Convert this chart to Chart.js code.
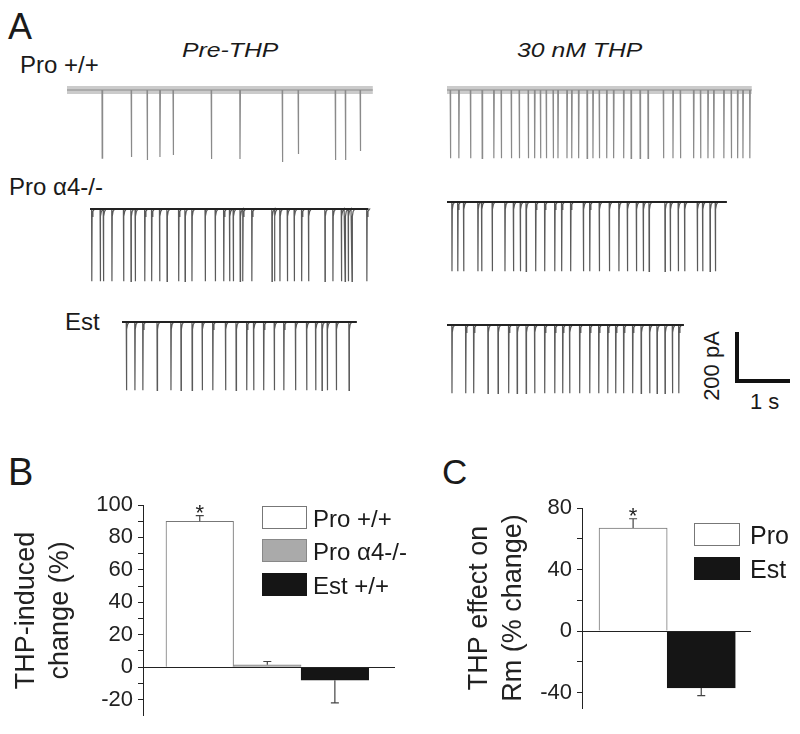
<!DOCTYPE html>
<html lang="en">
<head>
<meta charset="UTF-8" />
<title>THP effect on spontaneous currents</title>
<script src="https://cdn.jsdelivr.net/npm/chart.js"></script>
<style>
  body { margin: 0; background: #fff; font-family: Arial, "Liberation Sans", sans-serif; color: #1a1a1a; }
  #fig { position: relative; width: 800px; height: 734px; overflow: hidden; }
  #fig canvas, .lbl, .box { position: absolute; }
  .lbl { white-space: nowrap; line-height: 1; }
  .wide { transform: scaleX(1.18); transform-origin: left top; }
  .box { box-sizing: border-box; width: 45px; height: 23px; }
</style>
</head>
<body>
<div id="fig">
  <div class="lbl" style="left:8px;top:9px;font-size:36px">A</div>
  <div class="lbl wide" style="left:182px;top:39px;font-size:21px;font-style:italic">Pre-THP</div>
  <div class="lbl wide" style="left:517px;top:39px;font-size:21px;font-style:italic">30 nM THP</div>
  <div class="lbl" style="left:20px;top:53px;font-size:24px">Pro +/+</div>
  <div class="lbl" style="left:9px;top:175px;font-size:24px">Pro α4-/-</div>
  <div class="lbl" style="left:65px;top:310px;font-size:24px">Est</div>
  <div class="lbl" style="left:712px;top:366px;font-size:22px;transform:translate(-50%,-50%) rotate(-90deg)">200 pA</div>
  <div class="lbl" style="left:750px;top:391px;font-size:22px">1 s</div>

  <div class="lbl" style="left:8px;top:453px;font-size:38px">B</div>
  <div class="lbl" style="left:442px;top:454px;font-size:35px">C</div>

  <canvas id="chartB" width="420" height="294" style="left:0;top:440px"></canvas>
  <canvas id="chartC" width="390" height="294" style="left:410px;top:440px"></canvas>

  <div class="box" style="left:262px;top:506px;background:#fff;border:1px solid #777"></div>
  <div class="box" style="left:262px;top:539px;background:#aaa;border:1px solid #888"></div>
  <div class="box" style="left:262px;top:573px;background:#151515"></div>
  <div class="lbl" style="left:313px;top:507px;font-size:24px">Pro +/+</div>
  <div class="lbl" style="left:313px;top:540px;font-size:24px">Pro α4-/-</div>
  <div class="lbl" style="left:313px;top:574px;font-size:24px">Est +/+</div>

  <div class="box" style="left:694px;top:523px;width:46px;background:#fff;border:1px solid #777"></div>
  <div class="box" style="left:694px;top:557px;width:46px;background:#151515"></div>
  <div class="lbl" style="left:750px;top:523px;font-size:25px">Pro</div>
  <div class="lbl" style="left:750px;top:557px;font-size:25px">Est</div>
</div>

<script>
  // spike (event) times in seconds
  const preProWT = [0.66, 1.21, 1.51, 1.75, 2.00, 2.72, 3.26, 4.06, 4.36, 5.06, 5.25, 5.53];
  const preProWTAmp = [278, 273, 286, 273, 265, 282, 282, 294, 261, 286, 286, 249];
  const thpProWT = [0.06, 0.22, 0.44, 0.66, 0.88, 1.02, 1.21, 1.36, 1.53, 1.65, 1.76, 1.87, 2.00, 2.09,
    2.26, 2.35, 2.48, 2.64, 2.75, 2.87, 3.01, 3.14, 3.33, 3.47, 3.64, 3.79, 4.08, 4.26, 4.40, 4.65,
    4.78, 4.92, 5.03, 5.22, 5.36, 5.48, 5.58, 5.71];
  const preProKO = [0.03, 0.19, 0.25, 0.41, 0.63, 0.77, 0.85, 1.03, 1.16, 1.31, 1.45, 1.67, 1.79, 1.92,
    2.17, 2.36, 2.52, 2.63, 2.70, 2.83, 2.88, 3.05, 3.43, 3.48, 3.58, 3.72, 3.85, 3.99, 4.12, 4.43,
    4.58, 4.74, 4.81, 4.87, 4.94, 5.22];
  const thpProKO = [0.09, 0.20, 0.31, 0.58, 0.65, 0.85, 1.09, 1.25, 1.38, 1.49, 1.67, 1.84, 2.03, 2.16,
    2.33, 2.57, 2.69, 2.87, 3.06, 3.24, 3.40, 3.57, 3.70, 3.81, 4.11, 4.21, 4.36, 4.48, 4.72, 4.82,
    4.96, 5.06];
  const preEst = [0.08, 0.24, 0.39, 0.66, 0.92, 1.11, 1.32, 1.51, 1.71, 1.95, 2.15, 2.35, 2.48, 2.67,
    2.87, 3.05, 3.27, 3.48, 3.65, 3.77, 3.87, 4.04, 4.28];
  const thpEst = [0.09, 0.35, 0.50, 0.77, 0.96, 1.16, 1.32, 1.49, 1.65, 1.84, 2.03, 2.18, 2.31, 2.50,
    2.69, 2.86, 3.03, 3.18, 3.33, 3.50, 3.66, 3.82, 3.96, 4.11, 4.25, 4.37];
  // trace lengths (s) and amplitudes (pA)
  const traceDur = [5.77, 5.75, 5.25, 5.28, 4.43, 4.47];
  const traceAmp = [preProWTAmp, 279, 295, 283, 279, 279];
  const scaleBarSeconds = 1;
  const scaleBarPA = 200;

  // panel B
  const bCats = ['Pro +/+', 'Pro α4-/-', 'Est +/+'];
  const bMeans = [90, 1.5, -8];
  const bErrs = [3.5, 2, 14];
  const bStars = ['*', '', ''];
  const bTicks = [-20, -10, 0, 10, 20, 30, 40, 50, 60, 70, 80, 90, 100];
  // panel C
  const cCats = ['Pro', 'Est'];
  const cMeans = [67, -37];
  const cErrs = [6, 5];
  const cStars = ['*', ''];
  const cTicks = [-40, -20, 0, 20, 40, 60, 80];

  Chart.defaults.font.family = 'Arial, "Liberation Sans", sans-serif';
  Chart.defaults.color = '#1a1a1a';
  Chart.defaults.animation = false;

  const PX_PER_S = 53;
  const PX_PER_PA = 0.245;
  const fig = document.getElementById('fig');

  // build a trace from event times; hooked = slow rounded recovery back to baseline
  function traceData(spikes, amp, dur, hooked) {
    const pts = [{ x: 0, y: 0 }];
    spikes.forEach((t, i) => {
      const a = Array.isArray(amp) ? amp[i] : amp;
      pts.push({ x: t, y: 0 }, { x: t + 0.004, y: -a });
      if (hooked) {
        pts.push({ x: t + 0.01, y: -30 }, { x: t + 0.025, y: -10 }, { x: t + 0.055, y: 0 });
      } else {
        pts.push({ x: t + 0.012, y: 0 });
      }
    });
    pts.push({ x: dur, y: 0 });
    return pts;
  }

  function addCanvas(left, top, w, h) {
    const c = document.createElement('canvas');
    c.width = w; c.height = h;
    c.style.left = left + 'px'; c.style.top = top + 'px';
    fig.appendChild(c);
    return c;
  }

  function lineChart(canvas, datasets, xMin, yMax) {
    const w = canvas.width, h = canvas.height;
    return new Chart(canvas, {
      type: 'line',
      data: { datasets },
      options: {
        responsive: false,
        devicePixelRatio: 1,
        layout: { padding: 0 },
        plugins: { legend: { display: false }, tooltip: { enabled: false } },
        elements: { point: { radius: 0 }, line: { tension: 0 } },
        scales: {
          x: { type: 'linear', display: false, min: xMin, max: xMin + w / PX_PER_S },
          y: { type: 'linear', display: false, max: yMax, min: yMax - h / PX_PER_PA }
        }
      }
    });
  }

  // trace placement: left edge and baseline (px)
  const traces = [
    { spikes: preProWT, left: 67, base: 90, noisy: true },
    { spikes: thpProWT, left: 447, base: 90, noisy: true },
    { spikes: preProKO, left: 90, base: 209 },
    { spikes: thpProKO, left: 447, base: 202 },
    { spikes: preEst, left: 122, base: 322 },
    { spikes: thpEst, left: 447, base: 325 }
  ];

  traces.forEach((tr, i) => {
    const dur = traceDur[i];
    const w = Math.round(dur * PX_PER_S) + 4, h = 90;
    const cv = addCanvas(tr.left, tr.base - 10, w, h);
    const base = {
      data: [{ x: 0, y: 0 }, { x: dur, y: 0 }],
      borderColor: tr.noisy ? 'rgba(140,140,140,0.45)' : '#222',
      borderWidth: tr.noisy ? 8 : 2,
      clip: false
    };
    const spk = {
      data: traceData(tr.spikes, traceAmp[i], dur, !tr.noisy),
      borderColor: tr.noisy ? '#8a8a8a' : '#5a5a5a',
      borderWidth: 1.2,
      clip: false
    };
    lineChart(cv, [base, spk], 0, 10 / PX_PER_PA);
  });

  // scale bar
  const sb = addCanvas(728, 325, 70, 66);
  lineChart(sb, [{
    data: [{ x: 0, y: scaleBarPA }, { x: 0, y: 0 }, { x: scaleBarSeconds, y: 0 }],
    borderColor: '#111', borderWidth: 4, borderJoinStyle: 'miter', borderCapStyle: 'butt', clip: false
  }], -9 / PX_PER_S, 56 / PX_PER_PA);

  // error bars + significance stars
  const errorBars = {
    id: 'errorBars',
    afterDatasetsDraw(chart) {
      const { ctx } = chart;
      const y = chart.scales.y;
      const ds = chart.data.datasets[0];
      const meta = chart.getDatasetMeta(0);
      ctx.save();
      ctx.strokeStyle = '#444';
      ctx.lineWidth = 1.2;
      meta.data.forEach((bar, i) => {
        const v = ds.data[i].y, e = ds.errors[i];
        const end = v >= 0 ? v + e : v - e;
        const y0 = y.getPixelForValue(v), y1 = y.getPixelForValue(end);
        ctx.beginPath();
        ctx.moveTo(bar.x, y0); ctx.lineTo(bar.x, y1);
        ctx.moveTo(bar.x - 4, y1); ctx.lineTo(bar.x + 4, y1);
        ctx.stroke();
        if (ds.stars[i]) {
          ctx.fillStyle = '#222';
          ctx.font = '22px Arial, "Liberation Sans", sans-serif';
          ctx.textAlign = 'center';
          ctx.textBaseline = 'alphabetic';
          ctx.fillText(ds.stars[i], bar.x, y1 + 4);
        }
      });
      // zero line on top of the bars
      const y0 = Math.round(y.getPixelForValue(0)) + 0.5;
      ctx.strokeStyle = '#222';
      ctx.lineWidth = 1;
      ctx.beginPath();
      ctx.moveTo(chart.chartArea.left, y0);
      ctx.lineTo(chart.chartArea.right, y0);
      ctx.stroke();
      ctx.restore();
    }
  };

  function barChart(id, cats, means, errs, stars, ticks, colors, borders, o) {
    return new Chart(document.getElementById(id), {
      type: 'bar',
      data: {
        datasets: [{
          data: means.map((v, i) => ({ x: i + 1, y: v })),
          label: cats.join(', '),
          errors: errs,
          stars: stars,
          backgroundColor: colors,
          borderColor: borders,
          borderWidth: 1,
          barPercentage: 1,
          categoryPercentage: 1
        }]
      },
      options: {
        responsive: false,
        devicePixelRatio: 1,
        layout: { padding: o.padding },
        plugins: { legend: { display: false }, tooltip: { enabled: false } },
        scales: {
          x: {
            type: 'linear', display: false, offset: false, grid: { offset: false },
            min: o.xMin, max: o.xMax,
            afterBuildTicks: s => { s.ticks = cats.map((c, i) => ({ value: i + 1 })); }
          },
          y: {
            min: o.yMin, max: o.yMax,
            afterFit: s => { s.width = o.axisWidth; },
            afterBuildTicks: s => { s.ticks = ticks.map(v => ({ value: v })); },
            border: { display: true, color: '#222', width: 1 },
            grid: {
              color: 'rgba(0,0,0,0)',
              tickColor: '#222',
              tickLength: 5,
              lineWidth: 1
            },
            ticks: {
              autoSkip: false,
              padding: 5,
              color: '#222',
              font: { size: 22 },
              callback: v => (v % o.labelEvery === 0 ? v : '')
            },
            title: {
              display: true,
              text: o.title,
              color: '#222',
              font: { size: 27, lineHeight: 1.25 },
              padding: { top: o.titlePad, bottom: 0 }
            }
          }
        }
      },
      plugins: [errorBars]
    });
  }

  barChart('chartB', bCats, bMeans, bErrs, bStars, bTicks,
    ['#ffffff', '#aaaaaa', '#151515'], ['#777', '#888', '#151515'], {
      padding: { top: 65, right: 25, bottom: 11, left: 0 },
      xMin: 0.16, xMax: 3.89, yMin: -30, yMax: 100, labelEvery: 20,
      axisWidth: 143, title: ['THP-induced', 'change (%)'], titlePad: 10
    });

  barChart('chartC', cCats, cMeans, cErrs, cStars, cTicks,
    ['#ffffff', '#151515'], ['#777', '#151515'], {
      padding: { top: 68, right: 49, bottom: 26, left: 0 },
      xMin: 0.25, xMax: 2.73, yMin: -50, yMax: 80, labelEvery: 40,
      axisWidth: 172, title: ['THP effect on', 'Rm (% change)'], titlePad: 53
    });
</script>
</body>
</html>
